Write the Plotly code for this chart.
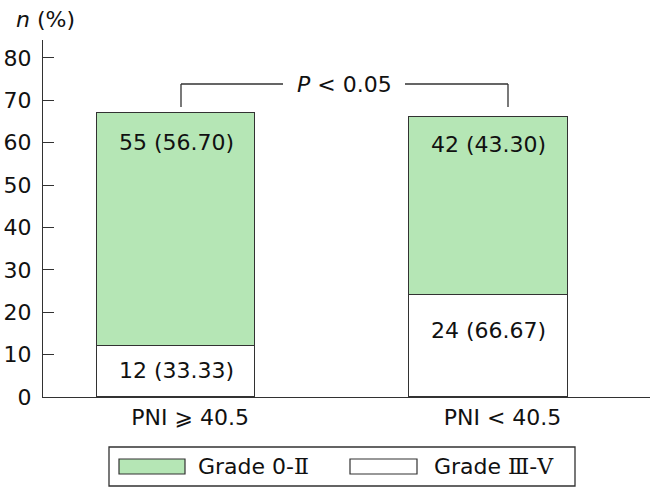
import plotly.graph_objects as go

categories = ["PNI ⩾ 40.5", "PNI < 40.5"]
grade_low = [55, 42]          # Grade 0-II (green, top)
grade_high = [12, 24]         # Grade III-V (white, bottom)
low_labels = ["55 (56.70)", "42 (43.30)"]
high_labels = ["12 (33.33)", "24 (66.67)"]
low_label_y = [60, 59.5]
high_label_y = [6.2, 15.8]
y_ticks = [0, 10, 20, 30, 40, 50, 60, 70, 80]
p_text = "<i>P</i> < 0.05"
SERIF = "<span style='font-family:DejaVu Serif'>{}</span>"
legend_texts = ["Grade 0-" + SERIF.format("Ⅱ"), "Grade " + SERIF.format("Ⅲ") + "-" + SERIF.format("Ⅴ")]

FONT = "DejaVu Sans"
FS = 22
GREEN = "rgb(181,230,181)"
EDGE = "rgb(50,50,50)"
TXT = "#111"
W, H = 653, 492
L, R, T, B = 43, 3, 40, 95
xs = [0, 1]

fig = go.Figure()
fig.add_trace(go.Bar(x=xs, y=grade_high, marker=dict(color="white", line=dict(color=EDGE, width=1.3)),
                     width=0.506, name="Grade Ⅲ-Ⅴ", showlegend=False))
fig.add_trace(go.Bar(x=xs, y=grade_low, marker=dict(color=GREEN, line=dict(color=EDGE, width=1.3)),
                     width=0.506, name="Grade 0-Ⅱ", showlegend=False))

anns = []
for i in range(2):
    anns.append(dict(x=xs[i], y=low_label_y[i], text=low_labels[i], showarrow=False,
                     font=dict(size=FS, color=TXT, family=FONT)))
    anns.append(dict(x=xs[i], y=high_label_y[i], text=high_labels[i], showarrow=False,
                     font=dict(size=FS, color=TXT, family=FONT)))

def px(xp):
    return (xp - L) / (W - L - R)

def py(yp):
    return (H - B - yp) / (H - T - B)

# y-axis title
anns.append(dict(xref="paper", yref="paper", x=px(14), y=py(20), xanchor="left", yanchor="middle",
                 text="<i>n</i> (%)", showarrow=False, font=dict(size=FS, color=TXT, family=FONT)))
# P annotation
anns.append(dict(xref="paper", yref="paper", x=px(344), y=py(84), xanchor="center", yanchor="middle",
                 text=p_text, showarrow=False, font=dict(size=FS, color=TXT, family=FONT)))

shapes = []
line = dict(color=EDGE, width=1.3)
# bracket
shapes.append(dict(type="line", xref="paper", yref="paper", x0=px(181), x1=px(181), y0=py(84), y1=py(107), line=line))
shapes.append(dict(type="line", xref="paper", yref="paper", x0=px(181), x1=px(283), y0=py(84), y1=py(84), line=line))
shapes.append(dict(type="line", xref="paper", yref="paper", x0=px(405), x1=px(508), y0=py(84), y1=py(84), line=line))
shapes.append(dict(type="line", xref="paper", yref="paper", x0=px(508), x1=px(508), y0=py(84), y1=py(107), line=line))

# custom legend
shapes.append(dict(type="rect", xref="paper", yref="paper", x0=px(109), x1=px(575), y0=py(447), y1=py(486),
                   line=dict(color=EDGE, width=1.3), fillcolor="white"))
shapes.append(dict(type="rect", xref="paper", yref="paper", x0=px(119), x1=px(185), y0=py(459), y1=py(474),
                   line=dict(color=EDGE, width=1.2), fillcolor=GREEN))
shapes.append(dict(type="rect", xref="paper", yref="paper", x0=px(350), x1=px(417), y0=py(459), y1=py(474),
                   line=dict(color=EDGE, width=1.2), fillcolor="white"))
anns.append(dict(xref="paper", yref="paper", x=px(196), y=py(466), xanchor="left", yanchor="middle",
                 text=legend_texts[0], showarrow=False, font=dict(size=FS, color=TXT, family=FONT)))
anns.append(dict(xref="paper", yref="paper", x=px(432), y=py(466), xanchor="left", yanchor="middle",
                 text=legend_texts[1], showarrow=False, font=dict(size=FS, color=TXT, family=FONT)))

fig.update_layout(
    width=W, height=H, barmode="stack", bargap=0,
    margin=dict(l=L, r=R, t=T, b=B, autoexpand=False),
    plot_bgcolor="white", paper_bgcolor="white",
    font=dict(family=FONT, size=FS, color=TXT),
    annotations=anns, shapes=shapes,
    xaxis=dict(range=[-0.426, 1.517], tickvals=xs, ticktext=categories, showgrid=False, zeroline=False,
               showline=True, linecolor=EDGE, linewidth=1.3, ticks="", fixedrange=True, automargin=False,
               ticklabelshift=14,
               tickfont=dict(size=FS, family=FONT, color=TXT)),
    yaxis=dict(range=[0, 84.2], tickvals=y_ticks, showgrid=False, zeroline=False,
               showline=True, linecolor=EDGE, linewidth=1.3, ticks="inside", ticklen=11,
               tickcolor=EDGE, tickwidth=1.3, fixedrange=True, automargin=False, ticklabelstandoff=6,
               tickfont=dict(size=FS, family=FONT, color=TXT)),
)

fig.write_html("out.html", config={"displayModeBar": False},
               post_script="document.body.style.margin='0px';")
